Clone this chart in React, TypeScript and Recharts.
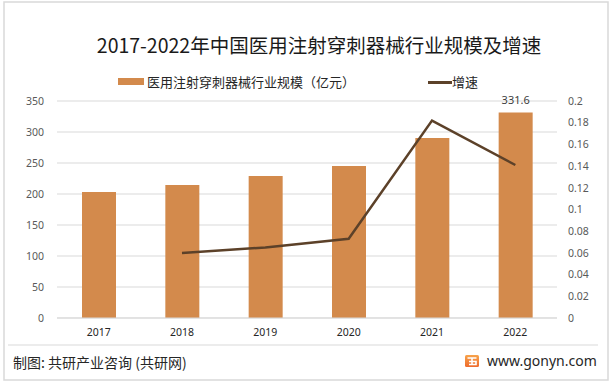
import React from 'react';
import { ComposedChart, Bar, Line, XAxis, YAxis, CartesianGrid, LabelList } from 'recharts';

const years = ['2017', '2018', '2019', '2020', '2021', '2022'];
const scale = [203.4, 214.6, 229.1, 245.3, 290.4, 331.6];
const growth: (number | null)[] = [null, 0.06, 0.065, 0.073, 0.182, 0.141];
const leftTicks = [0, 50, 100, 150, 200, 250, 300, 350];
const rightTicks = [0, 0.02, 0.04, 0.06, 0.08, 0.1, 0.12, 0.14, 0.16, 0.18, 0.2];
const barName = '医用注射穿刺器械行业规模（亿元）';
const lineName = '增速';
const title = '2017-2022年中国医用注射穿刺器械行业规模及增速';
const source = '制图: 共研产业咨询 (共研网)';
const site = 'www.gonyn.com';

const data = years.map((y, i) => ({ year: y, scale: scale[i], growth: growth[i] }));

const FONT = '"Noto Sans", "Noto Sans CJK SC", sans-serif';
const BAR = '#D38A4C';
const LINE = '#5C4129';
const GRID = '#D9D9D9';
const TICK = { fill: '#595959', fontSize: 10.5, fontFamily: FONT };

const LegendBlock = () => (
  <div style={{ position: 'absolute', left: 0, top: 72, width: 613, height: 20, fontFamily: FONT, fontSize: 13, color: '#262626' }}>
    <div style={{ position: 'absolute', left: 118, top: 6, width: 26, height: 7, background: BAR }} />
    <div style={{ position: 'absolute', left: 147, top: 0, lineHeight: '20px', whiteSpace: 'nowrap' }}>{barName}</div>
    <div style={{ position: 'absolute', left: 428, top: 9, width: 24, height: 3, background: LINE }} />
    <div style={{ position: 'absolute', left: 452, top: 0, lineHeight: '20px', whiteSpace: 'nowrap' }}>{lineName}</div>
  </div>
);

const LastLabel = (props: any) => {
  const { x, y, width, value, index } = props;
  if (index !== scale.length - 1) return null;
  return (
    <text x={x + width / 2} y={y - 8} textAnchor="middle" fill="#404040" fontSize={11} fontFamily={FONT}>
      {value}
    </text>
  );
};

export default function App() {
  return (
    <div style={{ position: 'absolute', left: 0, top: 0, width: 613, height: 386, background: '#fff' }}>
      <ComposedChart
        width={613}
        height={386}
        data={data}
        margin={{ top: 101, right: 0, bottom: 38, left: 0 }}
      >
        <CartesianGrid yAxisId="left" vertical={false} stroke={GRID} strokeWidth={1} />
        <XAxis
          dataKey="year"
          axisLine={{ stroke: GRID }}
          tickLine={false}
          tickSize={0}
          tickMargin={11}
          height={30}
          tick={{ ...TICK, fill: '#262626' }}
          interval={0}
        />
        <YAxis
          yAxisId="left"
          orientation="left"
          width={57}
          domain={[0, 350]}
          ticks={leftTicks}
          axisLine={false}
          tickLine={false}
          tickSize={0}
          tickMargin={13}
          tick={TICK}
          interval={0}
        />
        <YAxis
          yAxisId="right"
          orientation="right"
          width={56}
          domain={[0, 0.2]}
          ticks={rightTicks}
          axisLine={false}
          tickLine={false}
          tickSize={0}
          tickMargin={11}
          tick={TICK}
          interval={0}
        />
        <Bar yAxisId="left" dataKey="scale" name={barName} fill={BAR} barSize={34} isAnimationActive={false}>
          <LabelList dataKey="scale" content={<LastLabel />} />
        </Bar>
        <Line
          yAxisId="right"
          dataKey="growth"
          name={lineName}
          stroke={LINE}
          strokeWidth={2.5}
          dot={false}
          activeDot={false}
          connectNulls={false}
          isAnimationActive={false}
        />
      </ComposedChart>
      <LegendBlock />
      <svg width={613} height={386} style={{ position: 'absolute', left: 0, top: 0, pointerEvents: 'none' }}>
        <rect x={4} y={2} width={604} height={378} fill="none" stroke={GRID} strokeWidth={1.5} />
        <line x1={8} y1={345} x2={598} y2={345} stroke={GRID} strokeWidth={1} />
        <defs>
          <linearGradient id="lg" x1="0" y1="0" x2="0" y2="1">
            <stop offset="0" stopColor="#F7A34A" />
            <stop offset="1" stopColor="#EE6B2E" />
          </linearGradient>
        </defs>
        <rect x={465} y={355} width={14} height={12} rx={1.5} fill="url(#lg)" />
        <path d="M467.5 358 H476.5 M472 358 V364.5 M469 361.5 H476 V364.5 H469" stroke="#fff" strokeWidth={1.6} fill="none" />
      </svg>
      <div
        style={{
          position: 'absolute', left: 0, width: 613, top: 33, textAlign: 'center', paddingLeft: 25, boxSizing: 'border-box',
          fontFamily: '"Noto Sans CJK SC", sans-serif', fontSize: 19.5, color: '#1a1a1a', lineHeight: '24px', whiteSpace: 'nowrap',
        }}
      >
        {title}
      </div>
      <div
        style={{
          position: 'absolute', left: 13, top: 352, fontFamily: '"Noto Sans CJK SC", sans-serif', fontSize: 14,
          color: '#262626', lineHeight: '20px', whiteSpace: 'nowrap',
        }}
      >
        {source}
      </div>
      <div
        style={{
          position: 'absolute', left: 487, top: 352, fontFamily: FONT, fontSize: 14,
          color: '#262626', lineHeight: '18px', whiteSpace: 'nowrap',
        }}
      >
        {site}
      </div>
    </div>
  );
}
